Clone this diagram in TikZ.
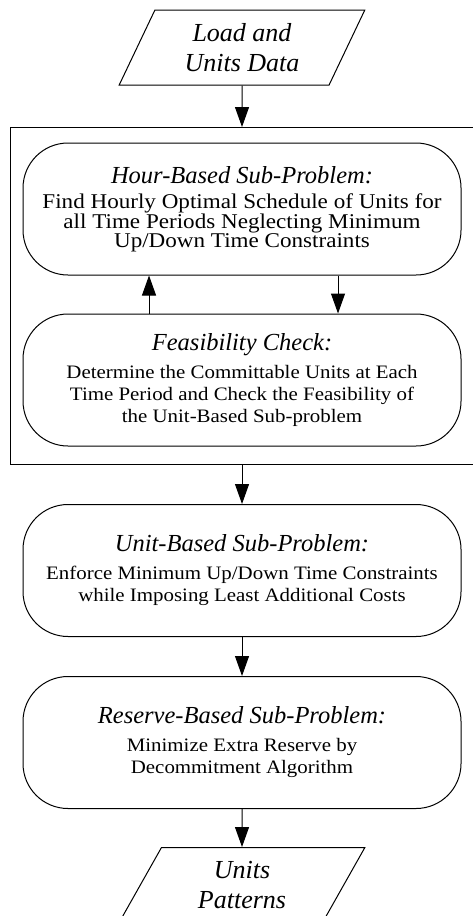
\documentclass[tikz,border=0pt]{standalone}
\usepackage{fontspec}
\setmainfont[FakeStretch=1.1]{Liberation Serif}
\newfontfamily\plainserif{Liberation Serif}
\usetikzlibrary{shapes,arrows.meta,positioning,fit}

\newcommand{\blocktitle}[1]{{\plainserif\itshape\fontsize{24.5}{24.5}\selectfont #1}\\[6pt]}

\begin{document}
\begin{tikzpicture}[
    node distance=38pt,
    block/.style={rectangle, draw, line width=1pt, rounded corners=45pt, minimum height=132pt, minimum width=438pt, inner sep=0pt, align=center, font=\fontsize{19}{22}\selectfont},
    io/.style={trapezium, trapezium left angle=64, trapezium right angle=116, trapezium stretches=true, draw, line width=1pt, minimum height=75pt, minimum width=246pt, inner sep=0pt, align=center, font=\plainserif\itshape\fontsize{26}{30}\selectfont},
    arrow/.style={-{Triangle[width=14pt,length=20pt]}, line width=1pt}
]
    \useasboundingbox (0,0) rectangle (473pt,-916pt);

    \node[io] (input) at (242pt,-47.5pt) {Load and\\Units Data};
    \node[block, font=\fontsize{21}{19}\selectfont, below=57pt of input] (hour) {\blocktitle{Hour-Based Sub-Problem:}Find Hourly Optimal Schedule of Units for\\all Time Periods Neglecting Minimum\\Up/Down Time Constraints};
    \node[block, below=of hour] (feas) {\blocktitle{Feasibility Check:}Determine the Committable Units at Each\\Time Period and Check the Feasibility of\\the Unit-Based Sub-problem};
    \coordinate[below=3pt of feas] (loopbottom);
    \node[draw, rectangle, line width=1pt, inner xsep=12pt, inner ysep=15pt, fit={(hour) (feas) (loopbottom)}] (loop) {};
    \node[block, below=39pt of loop] (unit) {\blocktitle{Unit-Based Sub-Problem:}Enforce Minimum Up/Down Time Constraints\\while Imposing Least Additional Costs};
    \node[block, below=39pt of unit] (reserve) {\blocktitle{Reserve-Based Sub-Problem:}Minimize Extra Reserve by\\Decommitment Algorithm};
    \node[io, below=of reserve] (output) {Units\\Patterns};

    \draw[arrow] (input) -- (loop);
    \draw[arrow] ([xshift=-93pt]feas.north) -- ([xshift=-93pt]hour.south);
    \draw[arrow] ([xshift=96pt]hour.south) -- ([xshift=96pt]feas.north);
    \draw[arrow] (loop) -- (unit);
    \draw[arrow] (unit) -- (reserve);
    \draw[arrow] (reserve) -- (output);
\end{tikzpicture}
\end{document}
